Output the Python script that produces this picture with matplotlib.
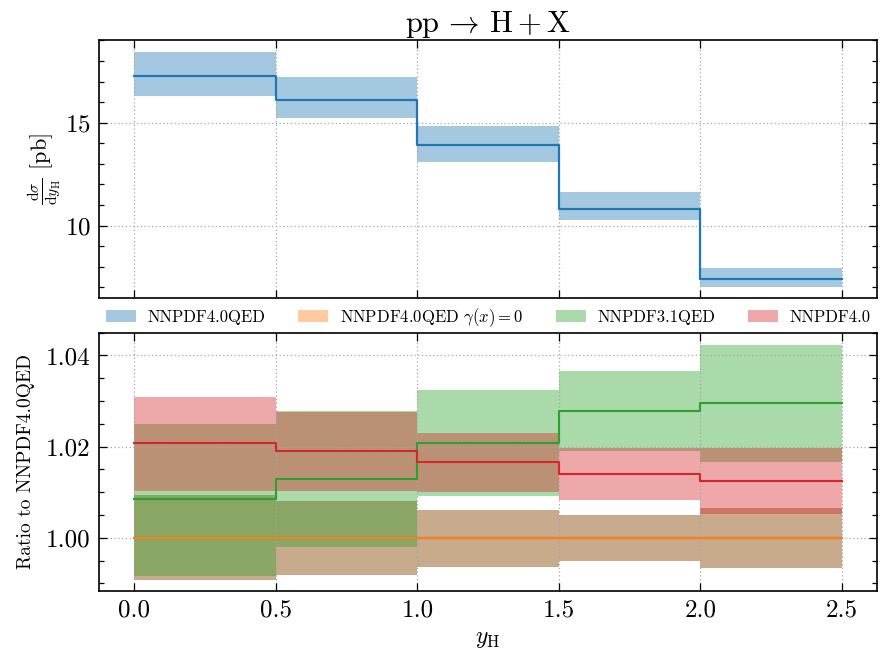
import matplotlib
matplotlib.use("Agg")
import matplotlib.pyplot as plt
from matplotlib.ticker import MultipleLocator, FormatStrFormatter
import numpy as np

plt.rcParams['font.family'] = 'serif'
plt.rcParams['font.serif'] = ['cmr10']
plt.rcParams['mathtext.fontset'] = 'cm'
plt.rcParams['axes.formatter.use_mathtext'] = True

# rapidity bins
edges = [0.0, 0.5, 1.0, 1.5, 2.0, 2.5]

# top panel: cross section (pb)
xsec_central = [17.27, 16.10, 13.90, 10.83, 7.43]
xsec_upper = [18.46, 17.22, 14.85, 11.64, 7.93]
xsec_lower = [16.30, 15.21, 13.11, 10.26, 7.02]

# bottom panel: ratio to NNPDF4.0QED
labels = ["NNPDF4.0QED", r"NNPDF4.0QED $\gamma(x) = 0$", "NNPDF3.1QED", "NNPDF4.0"]
colors = ["tab:blue", "tab:orange", "tab:green", "tab:red"]

qed40_central = [1.0, 1.0, 1.0, 1.0, 1.0]
qed40_upper = [1.0093, 1.0080, 1.0062, 1.0050, 1.0066]
qed40_lower = [0.9907, 0.9919, 0.9936, 0.9949, 0.9933]

nophot_central = [1.0, 1.0, 1.0, 1.0, 1.0]
nophot_upper = [1.0093, 1.0080, 1.0062, 1.0050, 1.0066]
nophot_lower = [0.9907, 0.9919, 0.9936, 0.9949, 0.9933]

qed31_central = [1.0085, 1.0129, 1.0208, 1.0278, 1.0296]
qed31_upper = [1.0250, 1.0279, 1.0325, 1.0366, 1.0424]
qed31_lower = [0.9917, 0.9979, 1.0091, 1.0190, 1.0167]

nnpdf40_central = [1.0207, 1.0190, 1.0166, 1.0140, 1.0124]
nnpdf40_upper = [1.0309, 1.0277, 1.0231, 1.0197, 1.0197]
nnpdf40_lower = [1.0103, 1.0103, 1.0100, 1.0084, 1.0053]

ratio_central = [qed40_central, nophot_central, qed31_central, nnpdf40_central]
ratio_upper = [qed40_upper, nophot_upper, qed31_upper, nnpdf40_upper]
ratio_lower = [qed40_lower, nophot_lower, qed31_lower, nnpdf40_lower]


def ext(v):
    # repeat last value so step='post' covers the last bin
    return np.append(v, v[-1])


fig = plt.figure(figsize=(8.88, 6.49), dpi=100)
ax1 = fig.add_axes([0.1115, 0.5413, 0.8765, 0.3971])
ax2 = fig.add_axes([0.1115, 0.0898, 0.8765, 0.3976])

ax1.fill_between(edges, ext(xsec_lower), ext(xsec_upper), step='post',
                 color=colors[0], alpha=0.4, linewidth=0)
ax1.step(edges, ext(xsec_central), where='post', color=colors[0], linewidth=1.6)

for i in range(4):
    ax2.fill_between(edges, ext(ratio_lower[i]), ext(ratio_upper[i]), step='post',
                     color=colors[i], alpha=0.4, linewidth=0, label=labels[i])
for i in range(4):
    ax2.step(edges, ext(ratio_central[i]), where='post', color=colors[i], linewidth=1.5)

ax1.set_xlim(-0.125, 2.625)
ax2.set_xlim(-0.125, 2.625)
ax1.set_ylim(6.50, 19.02)
ax2.set_ylim(0.9884, 1.0450)

for ax in (ax1, ax2):
    ax.xaxis.set_major_locator(MultipleLocator(0.5))
    ax.tick_params(which='both', direction='in', top=True, right=True, width=0.9)
    ax.tick_params(which='major', length=6, labelsize=18, pad=6)
    ax.tick_params(which='minor', length=3.5)
    ax.tick_params(axis='x', which='minor', bottom=False, top=False)
    ax.grid(True, linestyle=(0, (1, 2)), color='0.65', linewidth=0.9)
    for s in ax.spines.values():
        s.set_linewidth(1.2)

ax1.yaxis.set_major_locator(MultipleLocator(5))
ax1.yaxis.set_minor_locator(MultipleLocator(1))
ax1.tick_params(axis='x', labelbottom=False)
ax2.yaxis.set_major_locator(MultipleLocator(0.02))
ax2.yaxis.set_minor_locator(MultipleLocator(0.005))
ax2.yaxis.set_major_formatter(FormatStrFormatter('%.2f'))
ax2.xaxis.set_major_formatter(FormatStrFormatter('%.1f'))

ax1.set_title(r"$\mathrm{pp} \,\rightarrow\, \mathrm{H} + \mathrm{X}$", fontsize=22, pad=4)
ax1.set_ylabel(r"$\frac{\mathrm{d}\sigma}{\mathrm{d}y_{\mathrm{H}}}$ [pb]", fontsize=16, labelpad=1)
ax2.set_ylabel("Ratio to NNPDF4.0QED", fontsize=14, labelpad=8)
ax2.set_xlabel(r"$y_{\mathrm{H}}$", fontsize=17, labelpad=5)

ax2.legend(loc='lower left', bbox_to_anchor=(0.0, 0.99, 1.0, 0.1), ncol=4, mode='expand',
           frameon=False, borderaxespad=0, fontsize=12, handlelength=1.8,
           handletextpad=0.7)

fig.savefig("out.png", dpi=100)
